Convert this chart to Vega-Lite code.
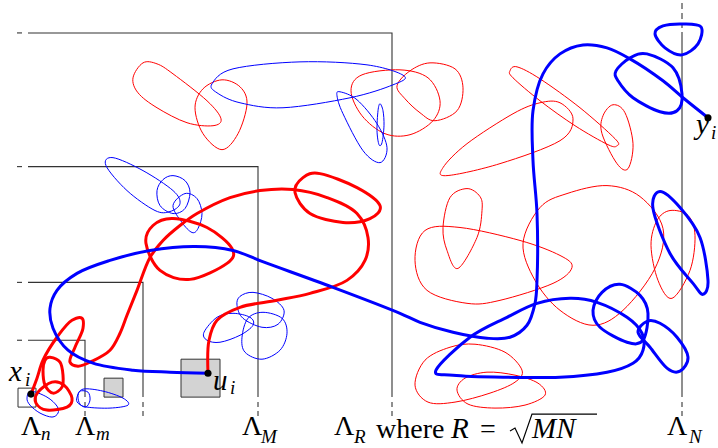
{
"$schema":"https://vega.github.io/schema/vega-lite/v6.json",
"width":718,"height":448,"autosize":{"type":"fit","contains":"padding"},"padding":0,"background":"white",
"config":{"view":{"stroke":null}},
"encoding":{
"x":{"field":"x","type":"quantitative","scale":{"domain":[0,718],"nice":false,"zero":false},"axis":null},
"y":{"field":"y","type":"quantitative","scale":{"domain":[0,448],"nice":false,"zero":false,"reverse":true},"axis":null}
},
"datasets":{
"frame":[
{"g":"F1","o":0,"x":28,"y":32},{"g":"F1","o":1,"x":392,"y":32},{"g":"F1","o":2,"x":392,"y":397},
{"g":"F2","o":0,"x":28,"y":166},{"g":"F2","o":1,"x":258,"y":166},{"g":"F2","o":2,"x":258,"y":397},
{"g":"F3","o":0,"x":28,"y":282},{"g":"F3","o":1,"x":143,"y":282},{"g":"F3","o":2,"x":143,"y":397},
{"g":"F4","o":0,"x":28,"y":340},{"g":"F4","o":1,"x":85,"y":340},{"g":"F4","o":2,"x":85,"y":397},
{"g":"F5","o":0,"x":682,"y":31},{"g":"F5","o":1,"x":682,"y":397},
{"g":"D1","o":0,"x":17,"y":32},{"g":"D1","o":1,"x":22,"y":32},
{"g":"D2","o":0,"x":17,"y":166},{"g":"D2","o":1,"x":22,"y":166},
{"g":"D3","o":0,"x":17,"y":282},{"g":"D3","o":1,"x":22,"y":282},
{"g":"D4","o":0,"x":17,"y":340},{"g":"D4","o":1,"x":22,"y":340},
{"g":"V1a","o":0,"x":85,"y":402},{"g":"V1a","o":1,"x":85,"y":407},{"g":"V1b","o":0,"x":85,"y":411},{"g":"V1b","o":1,"x":85,"y":416},
{"g":"V2a","o":0,"x":143,"y":402},{"g":"V2a","o":1,"x":143,"y":407},{"g":"V2b","o":0,"x":143,"y":411},{"g":"V2b","o":1,"x":143,"y":416},
{"g":"V3a","o":0,"x":258,"y":402},{"g":"V3a","o":1,"x":258,"y":407},{"g":"V3b","o":0,"x":258,"y":411},{"g":"V3b","o":1,"x":258,"y":416},
{"g":"V4a","o":0,"x":392,"y":402},{"g":"V4a","o":1,"x":392,"y":407},{"g":"V4b","o":0,"x":392,"y":411},{"g":"V4b","o":1,"x":392,"y":416},
{"g":"V5a","o":0,"x":682,"y":402},{"g":"V5a","o":1,"x":682,"y":407},{"g":"V5b","o":0,"x":682,"y":411},{"g":"V5b","o":1,"x":682,"y":416},
{"g":"T1","o":0,"x":682,"y":2},{"g":"T1","o":1,"x":682,"y":8},
{"g":"T2","o":0,"x":682,"y":12},{"g":"T2","o":1,"x":682,"y":18},
{"g":"T3","o":0,"x":682,"y":22},{"g":"T3","o":1,"x":682,"y":27}
],
"radical":[
{"g":"S","o":0,"x":510,"y":431},{"g":"S","o":1,"x":515,"y":428},{"g":"S","o":2,"x":522,"y":443},{"g":"S","o":3,"x":532,"y":414},{"g":"S","o":4,"x":597,"y":414}
],
"boxWhite":[{"x":18,"x2":36,"y":388,"y2":407}],
"boxGray":[{"x":104,"x2":123,"y":378,"y2":397},{"x":181,"x2":220,"y":359,"y2":397}],
"thinRed":[
{"g":"R1","o":0,"x":133,"y":77},{"g":"R1","o":1,"x":143,"y":62},{"g":"R1","o":2,"x":157,"y":63},{"g":"R1","o":3,"x":173,"y":73},{"g":"R1","o":4,"x":207,"y":100},{"g":"R1","o":5,"x":221,"y":118},{"g":"R1","o":6,"x":213,"y":125},{"g":"R1","o":7,"x":187,"y":122},{"g":"R1","o":8,"x":157,"y":107},{"g":"R1","o":9,"x":138,"y":92},
{"g":"R2","o":0,"x":222,"y":79},{"g":"R2","o":1,"x":240,"y":86},{"g":"R2","o":2,"x":247,"y":103},{"g":"R2","o":3,"x":238,"y":133},{"g":"R2","o":4,"x":222,"y":149},{"g":"R2","o":5,"x":203,"y":133},{"g":"R2","o":6,"x":195,"y":107},{"g":"R2","o":7,"x":203,"y":88},
{"g":"R3","o":0,"x":351,"y":90},{"g":"R3","o":1,"x":362,"y":74},{"g":"R3","o":2,"x":400,"y":69},{"g":"R3","o":3,"x":428,"y":77},{"g":"R3","o":4,"x":440,"y":100},{"g":"R3","o":5,"x":433,"y":120},{"g":"R3","o":6,"x":410,"y":134},{"g":"R3","o":7,"x":385,"y":133},{"g":"R3","o":8,"x":362,"y":115},
{"g":"R4","o":0,"x":397,"y":85},{"g":"R4","o":1,"x":410,"y":70},{"g":"R4","o":2,"x":430,"y":62},{"g":"R4","o":3,"x":455,"y":68},{"g":"R4","o":4,"x":463,"y":87},{"g":"R4","o":5,"x":457,"y":110},{"g":"R4","o":6,"x":435,"y":120},{"g":"R4","o":7,"x":420,"y":112},{"g":"R4","o":8,"x":405,"y":98},
{"g":"R5","o":0,"x":510,"y":70},{"g":"R5","o":1,"x":517,"y":66},{"g":"R5","o":2,"x":540,"y":78},{"g":"R5","o":3,"x":580,"y":107},{"g":"R5","o":4,"x":615,"y":138},{"g":"R5","o":5,"x":617,"y":145},{"g":"R5","o":6,"x":608,"y":144},{"g":"R5","o":7,"x":575,"y":125},{"g":"R5","o":8,"x":540,"y":100},{"g":"R5","o":9,"x":513,"y":77},
{"g":"R6","o":0,"x":443,"y":167},{"g":"R6","o":1,"x":467,"y":143},{"g":"R6","o":2,"x":513,"y":113},{"g":"R6","o":3,"x":540,"y":102},{"g":"R6","o":4,"x":560,"y":102},{"g":"R6","o":5,"x":573,"y":118},{"g":"R6","o":6,"x":560,"y":140},{"g":"R6","o":7,"x":500,"y":163},{"g":"R6","o":8,"x":447,"y":175},
{"g":"R7","o":0,"x":613,"y":104},{"g":"R7","o":1,"x":625,"y":112},{"g":"R7","o":2,"x":633,"y":143},{"g":"R7","o":3,"x":628,"y":168},{"g":"R7","o":4,"x":617,"y":163},{"g":"R7","o":5,"x":602,"y":133},{"g":"R7","o":6,"x":603,"y":115},
{"g":"R8","o":0,"x":467,"y":188},{"g":"R8","o":1,"x":480,"y":196},{"g":"R8","o":2,"x":482,"y":210},{"g":"R8","o":3,"x":477,"y":237},{"g":"R8","o":4,"x":458,"y":268},{"g":"R8","o":5,"x":447,"y":250},{"g":"R8","o":6,"x":443,"y":227},{"g":"R8","o":7,"x":450,"y":197},
{"g":"R9","o":0,"x":425,"y":230},{"g":"R9","o":1,"x":460,"y":227},{"g":"R9","o":2,"x":520,"y":240},{"g":"R9","o":3,"x":560,"y":255},{"g":"R9","o":4,"x":572,"y":267},{"g":"R9","o":5,"x":553,"y":283},{"g":"R9","o":6,"x":500,"y":300},{"g":"R9","o":7,"x":467,"y":303},{"g":"R9","o":8,"x":427,"y":290},{"g":"R9","o":9,"x":415,"y":260},
{"g":"R10","o":0,"x":523,"y":243},{"g":"R10","o":1,"x":540,"y":207},{"g":"R10","o":2,"x":567,"y":193},{"g":"R10","o":3,"x":607,"y":185},{"g":"R10","o":4,"x":640,"y":196},{"g":"R10","o":5,"x":663,"y":228},{"g":"R10","o":6,"x":655,"y":268},{"g":"R10","o":7,"x":623,"y":310},{"g":"R10","o":8,"x":593,"y":325},{"g":"R10","o":9,"x":560,"y":310},{"g":"R10","o":10,"x":535,"y":280},
{"g":"R11","o":0,"x":670,"y":210},{"g":"R11","o":1,"x":688,"y":215},{"g":"R11","o":2,"x":695,"y":235},{"g":"R11","o":3,"x":690,"y":270},{"g":"R11","o":4,"x":672,"y":298},{"g":"R11","o":5,"x":658,"y":280},{"g":"R11","o":6,"x":651,"y":245},{"g":"R11","o":7,"x":657,"y":220},
{"g":"R12","o":0,"x":415,"y":385},{"g":"R12","o":1,"x":425,"y":360},{"g":"R12","o":2,"x":450,"y":347},{"g":"R12","o":3,"x":475,"y":344},{"g":"R12","o":4,"x":505,"y":352},{"g":"R12","o":5,"x":522,"y":370},{"g":"R12","o":6,"x":515,"y":382},{"g":"R12","o":7,"x":490,"y":393},{"g":"R12","o":8,"x":455,"y":402},{"g":"R12","o":9,"x":428,"y":402},
{"g":"R13","o":0,"x":457,"y":390},{"g":"R13","o":1,"x":465,"y":378},{"g":"R13","o":2,"x":487,"y":372},{"g":"R13","o":3,"x":515,"y":375},{"g":"R13","o":4,"x":538,"y":383},{"g":"R13","o":5,"x":545,"y":395},{"g":"R13","o":6,"x":525,"y":405},{"g":"R13","o":7,"x":495,"y":408},{"g":"R13","o":8,"x":468,"y":404}
],
"thinBlue":[
{"g":"B1","o":0,"x":212,"y":83},{"g":"B1","o":1,"x":233,"y":68},{"g":"B1","o":2,"x":300,"y":61},{"g":"B1","o":3,"x":367,"y":64},{"g":"B1","o":4,"x":404,"y":75},{"g":"B1","o":5,"x":393,"y":84},{"g":"B1","o":6,"x":350,"y":97},{"g":"B1","o":7,"x":283,"y":107},{"g":"B1","o":8,"x":240,"y":102},{"g":"B1","o":9,"x":217,"y":92},
{"g":"B2","o":0,"x":340,"y":91},{"g":"B2","o":1,"x":357,"y":99},{"g":"B2","o":2,"x":377,"y":123},{"g":"B2","o":3,"x":387,"y":147},{"g":"B2","o":4,"x":380,"y":162},{"g":"B2","o":5,"x":363,"y":150},{"g":"B2","o":6,"x":343,"y":113},{"g":"B2","o":7,"x":337,"y":95},
{"g":"B3","o":0,"x":380,"y":103},{"g":"B3","o":1,"x":383,"y":110},{"g":"B3","o":2,"x":384,"y":125},{"g":"B3","o":3,"x":382,"y":142},{"g":"B3","o":4,"x":379,"y":144},{"g":"B3","o":5,"x":377,"y":130},{"g":"B3","o":6,"x":378,"y":110},
{"g":"B4","o":0,"x":106,"y":165},{"g":"B4","o":1,"x":113,"y":157},{"g":"B4","o":2,"x":143,"y":170},{"g":"B4","o":3,"x":173,"y":190},{"g":"B4","o":4,"x":180,"y":203},{"g":"B4","o":5,"x":170,"y":211},{"g":"B4","o":6,"x":155,"y":210},{"g":"B4","o":7,"x":127,"y":190},
{"g":"B5","o":0,"x":173,"y":175},{"g":"B5","o":1,"x":185,"y":180},{"g":"B5","o":2,"x":190,"y":192},{"g":"B5","o":3,"x":185,"y":208},{"g":"B5","o":4,"x":173,"y":213},{"g":"B5","o":5,"x":160,"y":205},{"g":"B5","o":6,"x":157,"y":190},{"g":"B5","o":7,"x":163,"y":179},
{"g":"B6","o":0,"x":185,"y":193},{"g":"B6","o":1,"x":197,"y":198},{"g":"B6","o":2,"x":202,"y":213},{"g":"B6","o":3,"x":198,"y":228},{"g":"B6","o":4,"x":192,"y":232},{"g":"B6","o":5,"x":182,"y":222},{"g":"B6","o":6,"x":173,"y":205},
{"g":"B7","o":0,"x":204,"y":332},{"g":"B7","o":1,"x":217,"y":317},{"g":"B7","o":2,"x":233,"y":313},{"g":"B7","o":3,"x":250,"y":317},{"g":"B7","o":4,"x":253,"y":325},{"g":"B7","o":5,"x":240,"y":335},{"g":"B7","o":6,"x":220,"y":342},{"g":"B7","o":7,"x":207,"y":340},
{"g":"B8","o":0,"x":240,"y":296},{"g":"B8","o":1,"x":253,"y":292},{"g":"B8","o":2,"x":272,"y":298},{"g":"B8","o":3,"x":284,"y":310},{"g":"B8","o":4,"x":278,"y":324},{"g":"B8","o":5,"x":262,"y":327},{"g":"B8","o":6,"x":243,"y":318},{"g":"B8","o":7,"x":237,"y":305},
{"g":"B9","o":0,"x":248,"y":318},{"g":"B9","o":1,"x":263,"y":312},{"g":"B9","o":2,"x":282,"y":318},{"g":"B9","o":3,"x":287,"y":333},{"g":"B9","o":4,"x":280,"y":350},{"g":"B9","o":5,"x":262,"y":359},{"g":"B9","o":6,"x":245,"y":352},{"g":"B9","o":7,"x":242,"y":337},
{"g":"B10","o":0,"x":27,"y":398},{"g":"B10","o":1,"x":31,"y":391},{"g":"B10","o":2,"x":47,"y":397},{"g":"B10","o":3,"x":57,"y":406},{"g":"B10","o":4,"x":58,"y":413},{"g":"B10","o":5,"x":52,"y":417},{"g":"B10","o":6,"x":40,"y":413},{"g":"B10","o":7,"x":30,"y":405},
{"g":"B11","o":0,"x":77,"y":397},{"g":"B11","o":1,"x":83,"y":389},{"g":"B11","o":2,"x":103,"y":391},{"g":"B11","o":3,"x":123,"y":398},{"g":"B11","o":4,"x":128,"y":405},{"g":"B11","o":5,"x":110,"y":408},{"g":"B11","o":6,"x":87,"y":407},{"g":"B11","o":7,"x":78,"y":403},
{"g":"B12","o":0,"x":80,"y":391},{"g":"B12","o":1,"x":88,"y":392},{"g":"B12","o":2,"x":90,"y":400},{"g":"B12","o":3,"x":86,"y":407},{"g":"B12","o":4,"x":80,"y":404},{"g":"B12","o":5,"x":78,"y":397}
],
"thickRedLoops":[
{"g":"TR1","o":0,"x":50,"y":357},{"g":"TR1","o":1,"x":60,"y":362},{"g":"TR1","o":2,"x":63,"y":375},{"g":"TR1","o":3,"x":62,"y":387},{"g":"TR1","o":4,"x":53,"y":393},{"g":"TR1","o":5,"x":45,"y":385},{"g":"TR1","o":6,"x":43,"y":370},{"g":"TR1","o":7,"x":45,"y":360},
{"g":"TR2","o":0,"x":52,"y":382},{"g":"TR2","o":1,"x":64,"y":385},{"g":"TR2","o":2,"x":72,"y":398},{"g":"TR2","o":3,"x":67,"y":407},{"g":"TR2","o":4,"x":47,"y":410},{"g":"TR2","o":5,"x":36,"y":403},{"g":"TR2","o":6,"x":38,"y":392},
{"g":"TR3","o":0,"x":153,"y":225},{"g":"TR3","o":1,"x":173,"y":218},{"g":"TR3","o":2,"x":207,"y":227},{"g":"TR3","o":3,"x":232,"y":248},{"g":"TR3","o":4,"x":227,"y":263},{"g":"TR3","o":5,"x":190,"y":279},{"g":"TR3","o":6,"x":160,"y":270},{"g":"TR3","o":7,"x":146,"y":243},
{"g":"TR4","o":0,"x":303,"y":177},{"g":"TR4","o":1,"x":320,"y":173},{"g":"TR4","o":2,"x":357,"y":187},{"g":"TR4","o":3,"x":380,"y":205},{"g":"TR4","o":4,"x":370,"y":218},{"g":"TR4","o":5,"x":343,"y":222},{"g":"TR4","o":6,"x":310,"y":213},{"g":"TR4","o":7,"x":295,"y":192}
],
"thickRedPath":[
{"g":"P","o":0,"x":31,"y":394},{"g":"P","o":1,"x":37,"y":378},{"g":"P","o":2,"x":43,"y":360},{"g":"P","o":3,"x":57,"y":337},{"g":"P","o":4,"x":72,"y":320},{"g":"P","o":5,"x":82,"y":318},{"g":"P","o":6,"x":83,"y":328},{"g":"P","o":7,"x":75,"y":347},{"g":"P","o":8,"x":70,"y":362},{"g":"P","o":9,"x":78,"y":366},{"g":"P","o":10,"x":92,"y":361},{"g":"P","o":11,"x":110,"y":350},{"g":"P","o":12,"x":120,"y":333},{"g":"P","o":13,"x":127,"y":315},{"g":"P","o":14,"x":137,"y":290},{"g":"P","o":15,"x":150,"y":257},{"g":"P","o":16,"x":163,"y":240},{"g":"P","o":17,"x":180,"y":225},{"g":"P","o":18,"x":197,"y":213},{"g":"P","o":19,"x":230,"y":197},{"g":"P","o":20,"x":260,"y":190},{"g":"P","o":21,"x":293,"y":189},{"g":"P","o":22,"x":327,"y":197},{"g":"P","o":23,"x":357,"y":213},{"g":"P","o":24,"x":368,"y":237},{"g":"P","o":25,"x":365,"y":260},{"g":"P","o":26,"x":347,"y":280},{"g":"P","o":27,"x":310,"y":293},{"g":"P","o":28,"x":277,"y":300},{"g":"P","o":29,"x":240,"y":307},{"g":"P","o":30,"x":217,"y":320},{"g":"P","o":31,"x":209,"y":340},{"g":"P","o":32,"x":208,"y":373}
],
"thickBlueLoops":[
{"g":"TC","o":0,"x":616,"y":70},{"g":"TC","o":1,"x":630,"y":57},{"g":"TC","o":2,"x":647,"y":53},{"g":"TC","o":3,"x":673,"y":67},{"g":"TC","o":4,"x":682,"y":93},{"g":"TC","o":5,"x":677,"y":110},{"g":"TC","o":6,"x":660,"y":111},{"g":"TC","o":7,"x":633,"y":97},{"g":"TC","o":8,"x":618,"y":80},
{"g":"TD","o":0,"x":655,"y":33},{"g":"TD","o":1,"x":663,"y":25},{"g":"TD","o":2,"x":683,"y":23},{"g":"TD","o":3,"x":701,"y":26},{"g":"TD","o":4,"x":698,"y":43},{"g":"TD","o":5,"x":682,"y":54},{"g":"TD","o":6,"x":665,"y":47},
{"g":"TE","o":0,"x":660,"y":191},{"g":"TE","o":1,"x":680,"y":207},{"g":"TE","o":2,"x":700,"y":237},{"g":"TE","o":3,"x":708,"y":280},{"g":"TE","o":4,"x":703,"y":294},{"g":"TE","o":5,"x":693,"y":283},{"g":"TE","o":6,"x":670,"y":253},{"g":"TE","o":7,"x":653,"y":208},
{"g":"TF","o":0,"x":620,"y":284},{"g":"TF","o":1,"x":640,"y":295},{"g":"TF","o":2,"x":648,"y":313},{"g":"TF","o":3,"x":643,"y":340},{"g":"TF","o":4,"x":627,"y":342},{"g":"TF","o":5,"x":600,"y":327},{"g":"TF","o":6,"x":593,"y":310},{"g":"TF","o":7,"x":602,"y":292},
{"g":"TG","o":0,"x":647,"y":321},{"g":"TG","o":1,"x":660,"y":323},{"g":"TG","o":2,"x":677,"y":337},{"g":"TG","o":3,"x":688,"y":357},{"g":"TG","o":4,"x":680,"y":371},{"g":"TG","o":5,"x":667,"y":368},{"g":"TG","o":6,"x":650,"y":347},{"g":"TG","o":7,"x":638,"y":332},
{"g":"TH","o":0,"x":436,"y":370},{"g":"TH","o":1,"x":470,"y":337},{"g":"TH","o":2,"x":507,"y":317},{"g":"TH","o":3,"x":537,"y":303},{"g":"TH","o":4,"x":570,"y":298},{"g":"TH","o":5,"x":597,"y":302},{"g":"TH","o":6,"x":627,"y":317},{"g":"TH","o":7,"x":642,"y":333},{"g":"TH","o":8,"x":643,"y":350},{"g":"TH","o":9,"x":633,"y":363},{"g":"TH","o":10,"x":607,"y":372},{"g":"TH","o":11,"x":560,"y":377},{"g":"TH","o":12,"x":503,"y":377},{"g":"TH","o":13,"x":453,"y":375}
],
"thickBluePath":[
{"g":"Q","o":0,"x":208,"y":373},{"g":"Q","o":1,"x":170,"y":372},{"g":"Q","o":2,"x":133,"y":370},{"g":"Q","o":3,"x":93,"y":363},{"g":"Q","o":4,"x":68,"y":350},{"g":"Q","o":5,"x":53,"y":328},{"g":"Q","o":6,"x":50,"y":308},{"g":"Q","o":7,"x":57,"y":290},{"g":"Q","o":8,"x":77,"y":273},{"g":"Q","o":9,"x":110,"y":260},{"g":"Q","o":10,"x":150,"y":250},{"g":"Q","o":11,"x":195,"y":246},{"g":"Q","o":12,"x":233,"y":250},{"g":"Q","o":13,"x":262,"y":261},{"g":"Q","o":14,"x":333,"y":287},{"g":"Q","o":15,"x":400,"y":313},{"g":"Q","o":16,"x":420,"y":322},{"g":"Q","o":17,"x":453,"y":332},{"g":"Q","o":18,"x":487,"y":338},{"g":"Q","o":19,"x":510,"y":337},{"g":"Q","o":20,"x":527,"y":325},{"g":"Q","o":21,"x":535,"y":303},{"g":"Q","o":22,"x":537,"y":280},{"g":"Q","o":23,"x":537,"y":213},{"g":"Q","o":24,"x":533,"y":160},{"g":"Q","o":25,"x":533,"y":110},{"g":"Q","o":26,"x":543,"y":73},{"g":"Q","o":27,"x":560,"y":53},{"g":"Q","o":28,"x":583,"y":44},{"g":"Q","o":29,"x":607,"y":47},{"g":"Q","o":30,"x":630,"y":58},{"g":"Q","o":31,"x":663,"y":80},{"g":"Q","o":32,"x":683,"y":97},{"g":"Q","o":33,"x":708,"y":117}
],
"dots":[{"x":31,"y":394},{"x":208,"y":373},{"x":708,"y":117}],
"mainText":[
{"t":"Λ","x":21,"y":435},{"t":"Λ","x":75,"y":435},{"t":"Λ","x":242,"y":435},{"t":"Λ","x":334,"y":435},{"t":"Λ","x":667,"y":435},
{"t":"where","x":376,"y":438},{"t":"=","x":480,"y":438}
],
"italicText":[
{"t":"x","x":9,"y":381},{"t":"u","x":213,"y":390},{"t":"y","x":696,"y":133},{"t":"R","x":451,"y":438},{"t":"MN","x":532,"y":438}
],
"subText":[
{"t":"n","x":41,"y":440},{"t":"m","x":96,"y":440},{"t":"M","x":261,"y":443},{"t":"R","x":354,"y":443},{"t":"N","x":689,"y":443},
{"t":"i","x":25,"y":386},{"t":"i","x":230,"y":394},{"t":"i","x":711,"y":138}
]
},
"layer":[
{"data":{"name":"frame"},"mark":{"type":"line","stroke":"#333333","strokeWidth":1.1,"interpolate":"linear"},
 "encoding":{"detail":{"field":"g"},"order":{"field":"o","type":"quantitative"}}},
{"data":{"name":"boxWhite"},"mark":{"type":"rect","fill":"white","stroke":"#333333","strokeWidth":1},
 "encoding":{"x2":{"field":"x2"},"y2":{"field":"y2"}}},
{"data":{"name":"boxGray"},"mark":{"type":"rect","fill":"#d3d3d3","stroke":"#333333","strokeWidth":1},
 "encoding":{"x2":{"field":"x2"},"y2":{"field":"y2"}}},
{"data":{"name":"thinRed"},"mark":{"type":"line","stroke":"#ff0000","strokeWidth":1,"interpolate":"cardinal-closed"},
 "encoding":{"detail":{"field":"g"},"order":{"field":"o","type":"quantitative"}}},
{"data":{"name":"thinBlue"},"mark":{"type":"line","stroke":"#0000ff","strokeWidth":1,"interpolate":"cardinal-closed"},
 "encoding":{"detail":{"field":"g"},"order":{"field":"o","type":"quantitative"}}},
{"data":{"name":"thickRedLoops"},"mark":{"type":"line","stroke":"#ff0000","strokeWidth":3,"interpolate":"cardinal-closed"},
 "encoding":{"detail":{"field":"g"},"order":{"field":"o","type":"quantitative"}}},
{"data":{"name":"thickRedPath"},"mark":{"type":"line","stroke":"#ff0000","strokeWidth":3,"interpolate":"catmull-rom"},
 "encoding":{"detail":{"field":"g"},"order":{"field":"o","type":"quantitative"}}},
{"data":{"name":"thickBlueLoops"},"mark":{"type":"line","stroke":"#0000ff","strokeWidth":3,"interpolate":"cardinal-closed"},
 "encoding":{"detail":{"field":"g"},"order":{"field":"o","type":"quantitative"}}},
{"data":{"name":"thickBluePath"},"mark":{"type":"line","stroke":"#0000ff","strokeWidth":3,"interpolate":"catmull-rom"},
 "encoding":{"detail":{"field":"g"},"order":{"field":"o","type":"quantitative"}}},
{"data":{"name":"dots"},"mark":{"type":"circle","fill":"black","opacity":1,"size":50}},
{"data":{"name":"radical"},"mark":{"type":"line","stroke":"black","strokeWidth":1.2,"interpolate":"linear"},
 "encoding":{"detail":{"field":"g"},"order":{"field":"o","type":"quantitative"}}},
{"data":{"name":"mainText"},"mark":{"type":"text","font":"'Liberation Serif', 'DejaVu Serif', serif","fontSize":28,"align":"left","baseline":"alphabetic","fill":"black"},
 "encoding":{"text":{"field":"t"}}},
{"data":{"name":"italicText"},"mark":{"type":"text","font":"'Liberation Serif', 'DejaVu Serif', serif","fontStyle":"italic","fontSize":29,"align":"left","baseline":"alphabetic","fill":"black"},
 "encoding":{"text":{"field":"t"}}},
{"data":{"name":"subText"},"mark":{"type":"text","font":"'Liberation Serif', 'DejaVu Serif', serif","fontStyle":"italic","fontSize":19,"align":"left","baseline":"alphabetic","fill":"black"},
 "encoding":{"text":{"field":"t"}}}
]
}
